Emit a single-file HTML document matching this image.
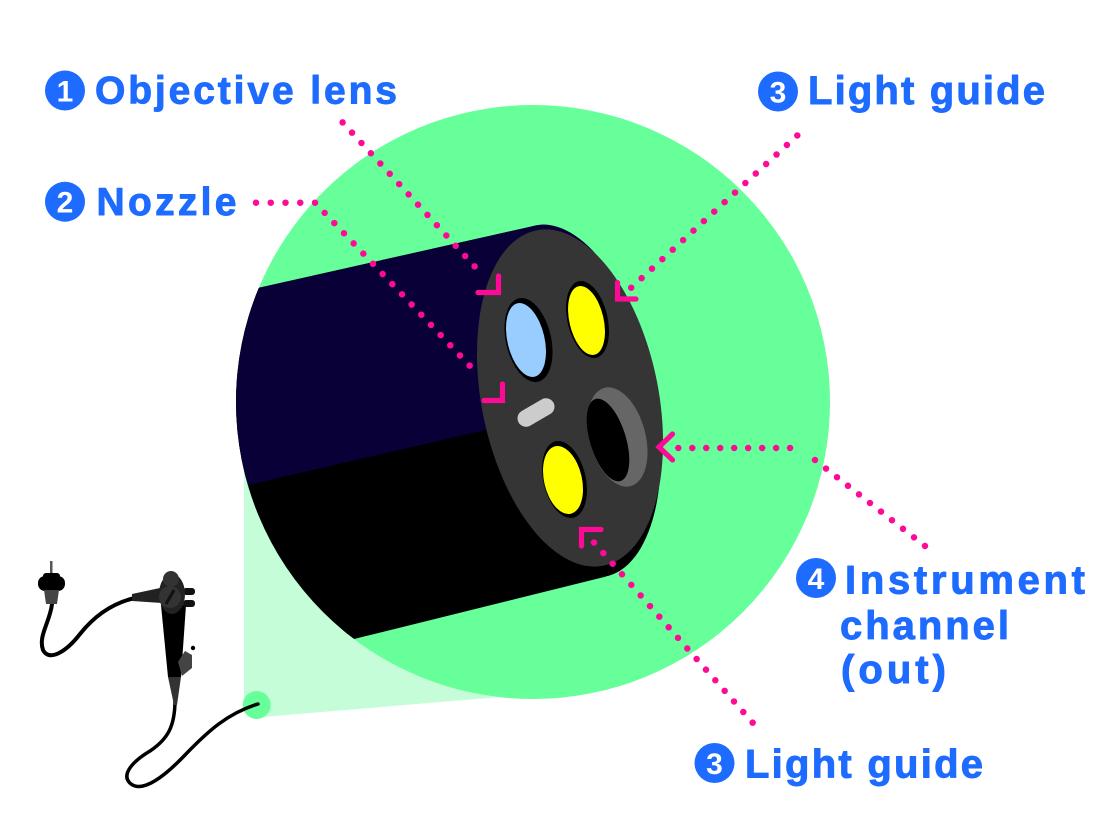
<!DOCTYPE html>
<html>
<head>
<meta charset="utf-8">
<style>
  html,body{margin:0;padding:0;background:#ffffff;}
  svg{display:block;}
  .lbl{font-family:"Liberation Sans",Arial,sans-serif;font-weight:bold;fill:#1e6bff;stroke:#1e6bff;stroke-width:0.9;stroke-linejoin:round;}
  .num{font-family:"Liberation Sans",Arial,sans-serif;font-weight:bold;fill:#ffffff;}
  .dot{fill:none;stroke:#ff0a96;stroke-width:6.5;stroke-linecap:round;}
  .chev{fill:none;stroke:#ff0a96;stroke-width:5.2;stroke-linecap:round;stroke-linejoin:miter;}
</style>
</head>
<body>
<svg width="1110" height="833" viewBox="0 0 1110 833" xmlns="http://www.w3.org/2000/svg">
  <defs>
    <clipPath id="cc"><circle cx="533" cy="402" r="297"/></clipPath>
    <clipPath id="bd">
      <polygon points="100,323.4 535.5,225.6 605.7,576.6 100,702"/>
      <ellipse cx="570.6" cy="401" rx="85" ry="179" transform="rotate(-11.3 570.6 401)"/>
    </clipPath>
  </defs>

  <rect x="0" y="0" width="1110" height="833" fill="#ffffff"/>

  <!-- projection cone -->
  <polygon points="244,440 244,705 256.7,717.5 497,697.3 540,697 540,440" fill="#c6fdd9"/>
  <!-- big green circle -->
  <circle cx="533" cy="402" r="297" fill="#66ff99"/>
  <!-- small green circle -->
  <circle cx="256.7" cy="705" r="14" fill="#66ff99"/>

  <!-- cylinder body -->
  <g clip-path="url(#cc)">
    <g clip-path="url(#bd)">
      <rect x="90" y="150" width="620" height="600" fill="#000000"/>
      <polygon points="100,300 720,150 720,375.5 100,519.3" fill="#0a0038"/>
    </g>
  </g>

  <!-- end face -->
  <ellipse cx="570" cy="398" rx="88.5" ry="171" transform="rotate(-11.3 570 398)" fill="#353535"/>

  <!-- objective lens -->
  <ellipse cx="528.5" cy="340" rx="22.6" ry="42.8" transform="rotate(-13 528.5 340)" fill="#000"/>
  <ellipse cx="526" cy="340" rx="18.6" ry="37.7" transform="rotate(-13 526 340)" fill="#99ccff"/>
  <!-- top light guide -->
  <ellipse cx="587.5" cy="319.5" rx="20.1" ry="39.2" transform="rotate(-13 587.5 319.5)" fill="#000"/>
  <ellipse cx="586.5" cy="320.5" rx="17.1" ry="35.2" transform="rotate(-13 586.5 320.5)" fill="#ffff00"/>
  <!-- bottom light guide -->
  <ellipse cx="564.5" cy="479.5" rx="21.2" ry="39.2" transform="rotate(-13 564.5 479.5)" fill="#000"/>
  <ellipse cx="563" cy="480" rx="18.9" ry="34.6" transform="rotate(-13 563 480)" fill="#ffff00"/>
  <!-- instrument channel -->
  <ellipse cx="617.5" cy="437" rx="27.9" ry="50.9" transform="rotate(-15 617.5 437)" fill="#666666"/>
  <ellipse cx="608" cy="440" rx="18" ry="42.9" transform="rotate(-17 608 440)" fill="#000"/>
  <!-- nozzle -->
  <line x1="526" y1="418.3" x2="546" y2="406.7" stroke="#cccccc" stroke-width="17" stroke-linecap="round"/>

  <!-- dotted leader lines -->
  <path class="dot" d="M342.6 122.4 L484 276.6" stroke-dasharray="0 13.95"/>
  <path class="dot" d="M256 202.7 L315 202.7" stroke-dasharray="0 14.75"/>
  <path class="dot" d="M315 202.7 L479 375.5" stroke-dasharray="0 14.04"/>
  <path class="dot" d="M797.3 135.5 L631.2 287.7" stroke-dasharray="0 14.08"/>
  <path class="dot" d="M678.3 448 L804 448" stroke-dasharray="0 13.97"/>
  <path class="dot" d="M815 460 L925 546" stroke-dasharray="0 13.96"/>
  <path class="dot" d="M594 542.5 L752.7 722.7" stroke-dasharray="0 14.12"/>

  <!-- chevrons -->
  <polyline class="chev" points="498.5,276 498.5,292.5 478,292.5"/>
  <polyline class="chev" points="502.5,384 502.5,400.5 484,400.5"/>
  <polyline class="chev" points="617.5,282.5 617.5,299 636,299"/>
  <polyline class="chev" points="672.5,434 659,447 672.5,460"/>
  <polyline class="chev" points="581.5,546 581.5,529.5 601,529.5"/>

  <!-- labels -->
  <circle cx="65" cy="90.5" r="20" fill="#1e6bff"/>
  <text class="num" x="65" y="101.5" font-size="30" text-anchor="middle">1</text>
  <text class="lbl" x="95" y="103.5" font-size="39" textLength="302" lengthAdjust="spacing">Objective lens</text>

  <circle cx="65" cy="201.7" r="20" fill="#1e6bff"/>
  <text class="num" x="65" y="212.7" font-size="30" text-anchor="middle">2</text>
  <text class="lbl" x="96.5" y="215" font-size="39" textLength="140" lengthAdjust="spacing">Nozzle</text>

  <circle cx="778" cy="91.5" r="20" fill="#1e6bff"/>
  <text class="num" x="778" y="102.5" font-size="30" text-anchor="middle">3</text>
  <text class="lbl" x="808" y="104" font-size="40" textLength="237" lengthAdjust="spacing">Light guide</text>

  <circle cx="816" cy="578" r="20" fill="#1e6bff"/>
  <text class="num" x="816" y="589" font-size="30" text-anchor="middle">4</text>
  <text class="lbl" x="845" y="593.3" font-size="40" textLength="240" lengthAdjust="spacing">Instrument</text>
  <text class="lbl" x="840" y="639" font-size="40" textLength="169" lengthAdjust="spacing">channel</text>
  <text class="lbl" x="841" y="683" font-size="40" textLength="105" lengthAdjust="spacing">(out)</text>

  <circle cx="714.5" cy="763" r="20" fill="#1e6bff"/>
  <text class="num" x="714.5" y="774" font-size="30" text-anchor="middle">3</text>
  <text class="lbl" x="745" y="777.3" font-size="40" textLength="238" lengthAdjust="spacing">Light guide</text>

  <!-- endoscope: cables -->
  <path d="M52 604 C 50 622, 38 636, 43 650 C 49 662, 66 652, 80 634 C 96 614, 116 601, 140 597" fill="none" stroke="#000" stroke-width="4" stroke-linecap="round"/>
  <path d="M175 700 C 175 726, 168 739, 150 751 C 130 763, 121 776, 131 784 C 143 793, 165 776, 185 755 C 208 731, 228 713, 258 704" fill="none" stroke="#000" stroke-width="3.5" stroke-linecap="round"/>

  <!-- plug -->
  <rect x="50" y="561" width="2.5" height="17" fill="#555"/>
  <rect x="43" y="573" width="17" height="7" rx="3" fill="#000"/>
  <rect x="38" y="576" width="27" height="15" rx="7" fill="#000"/>
  <polygon points="44,590 59,590 57,604 46,604" fill="#444"/>

  <!-- handle -->
  <path d="M132 594 L160 588 L162 603 L132 601 Z" fill="#222"/>
  <polygon points="161,605 186,605 181,677 168,677" fill="#000"/>
  <polygon points="168,677 181,677 177,705 174,705" fill="#333"/>
  <polygon points="178,662 185,651 192,655 192,668 182,676" fill="#444"/>
  <circle cx="193" cy="648" r="2.2" fill="#000"/>
  <rect x="183" y="588" width="12" height="7" rx="3" fill="#111"/>
  <rect x="183" y="600" width="12" height="7" rx="3" fill="#111"/>
  <ellipse cx="172" cy="594" rx="13" ry="20" fill="#222"/>
  <circle cx="171" cy="579" r="8" fill="#333"/>
  <circle cx="170" cy="597" r="11" fill="#333"/>
  <line x1="166" y1="604" x2="174" y2="590" stroke="#111" stroke-width="3"/>
</svg>
</body>
</html>
